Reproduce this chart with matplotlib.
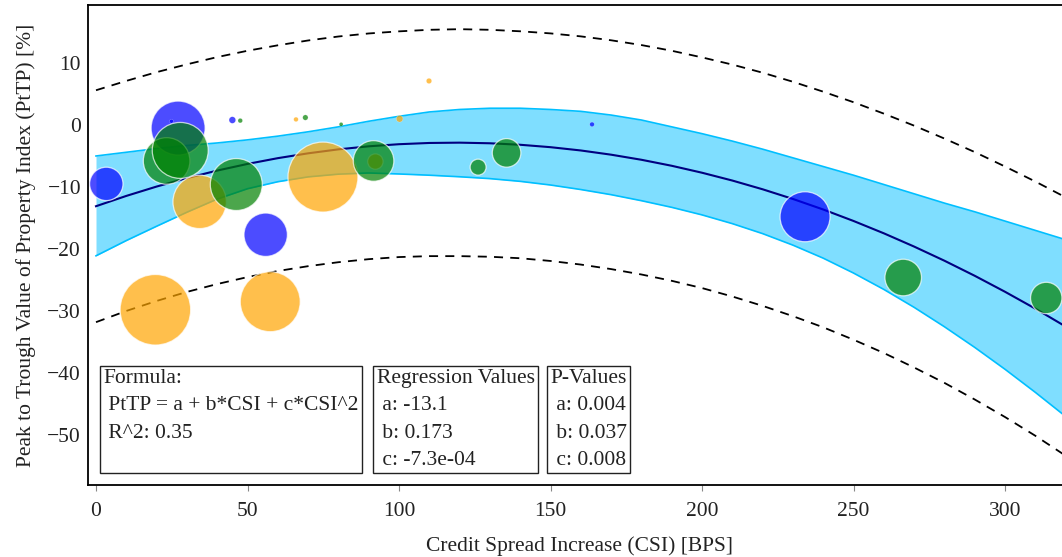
import matplotlib
matplotlib.use("Agg")
import matplotlib.pyplot as plt

plt.rcParams['font.family'] = ['Liberation Serif', 'DejaVu Serif']

# bubbles: CSI [BPS], PtTP [%], bubble area
blue_x = [3.4, 27.1, 24.9, 45.0, 56.0, 163.7, 234.0]
blue_y = [-9.5, -0.5, 0.6, 0.8, -17.7, 0.1, -14.8]
blue_s = [577, 1509, 8, 23, 975, 11, 1294]

orange_x = [19.6, 34.2, 57.5, 74.9, 66.0, 92.2, 100.2, 109.9]
orange_y = [-29.8, -12.4, -28.5, -8.4, 0.9, -5.9, 1.0, 7.1]
orange_s = [2580, 1476, 1863, 2536, 11, 123, 23, 15]

green_x = [23.3, 27.8, 46.3, 47.6, 69.1, 80.9, 91.6, 126.1, 135.5, 266.4, 313.6]
green_y = [-5.8, -4.1, -9.6, 0.7, 1.2, 0.1, -5.8, -6.8, -4.5, -24.6, -27.9]
green_s = [1124, 1623, 1399, 11, 15, 8, 853, 132, 423, 693, 510]

# regression curve, confidence band and prediction interval
band_x = [0, 10, 20, 30, 40, 50, 60, 70, 80, 90, 100, 110, 120, 130, 140, 150, 160,
          170, 180, 190, 200, 210, 220, 230, 240, 250, 260, 270, 280, 290, 300, 310, 322]
fit_y = [-13.10, -11.44, -9.93, -8.57, -7.35, -6.28, -5.35, -4.57, -3.93, -3.44, -3.10,
         -2.90, -2.85, -2.95, -3.19, -3.58, -4.11, -4.79, -5.61, -6.58, -7.70, -8.96,
         -10.37, -11.93, -13.63, -15.48, -17.47, -19.61, -21.89, -24.32, -26.90, -29.62, -33.08]
ci_upper = [-5.0, -4.4, -3.8, -3.3, -2.9, -2.4, -1.8, -1.1, -0.3, 0.6, 1.4, 2.1, 2.5, 2.7,
            2.7, 2.5, 2.2, 1.6, 0.8, -0.3, -1.4, -2.6, -3.9, -5.3, -6.7, -8.1, -9.6, -11.1,
            -12.6, -14.0, -15.5, -17.0, -18.8]
ci_lower = [-21.10, -18.64, -16.33, -14.07, -11.95, -10.28, -9.15, -8.37, -7.93, -7.74,
            -7.90, -8.10, -8.35, -8.65, -9.09, -9.68, -10.41, -11.24, -12.21, -13.28, -14.50,
            -15.91, -17.52, -19.38, -21.48, -23.88, -26.52, -29.41, -32.54, -35.87, -39.40,
            -43.12, -47.78]
pi_upper = [5.60, 7.11, 8.52, 9.78, 10.95, 11.97, 12.85, 13.63, 14.27, 14.76, 15.10, 15.35,
            15.45, 15.35, 15.11, 14.77, 14.29, 13.66, 12.89, 11.97, 10.90, 9.74, 8.43, 6.97,
            5.37, 3.67, 1.83, -0.11, -2.19, -4.37, -6.70, -9.12, -12.18]
pi_lower = [-31.80, -29.99, -28.38, -26.92, -25.65, -24.53, -23.55, -22.77, -22.13, -21.64,
            -21.30, -21.15, -21.15, -21.25, -21.49, -21.93, -22.51, -23.24, -24.11, -25.13,
            -26.30, -27.66, -29.17, -30.83, -32.63, -34.63, -36.77, -39.11, -41.59, -44.27,
            -47.10, -50.12, -53.98]

formula_text = "Formula:\n PtTP = a + b*CSI + c*CSI^2\n R^2: 0.35\n "
coef_text = "Regression Values\n a: -13.1\n b: 0.173\n c: -7.3e-04"
pval_text = "P-Values\n a: 0.004\n b: 0.037\n c: 0.008"

fig = plt.figure(figsize=(10.62, 5.57), dpi=100)
ax = fig.add_axes([88/1062, 72/557, 984/1062, 480/557])

ax.fill_between(band_x, ci_lower, ci_upper, color='deepskyblue', alpha=0.5, lw=0)
ax.plot(band_x, ci_upper, color='deepskyblue', lw=1.2)
ax.plot(band_x, ci_lower, color='deepskyblue', lw=1.2)
ax.plot(band_x, fit_y, color='navy', lw=1.5)
ax.plot(band_x, pi_upper, color='black', lw=1.3, ls=(0, (5, 4)))
ax.plot(band_x, pi_lower, color='black', lw=1.3, ls=(0, (5, 4)))

for xs, ys, ss, col in [(blue_x, blue_y, blue_s, 'blue'),
                        (orange_x, orange_y, orange_s, 'orange'),
                        (green_x, green_y, green_s, 'green')]:
    lws = [0.9 if s > 50 else 0.2 for s in ss]
    ax.scatter(xs, ys, s=ss, color=col, alpha=0.7, edgecolors='white', linewidths=lws, zorder=3)

box = dict(boxstyle='square,pad=0.15', facecolor='white', edgecolor='#222222', lw=1)
kw = dict(fontsize=15.5, va='top', ha='left', bbox=box, color='#222222', linespacing=1.6, zorder=5)
ax.text(2.3, -39.35, formula_text, **kw)
ax.text(92.6, -39.35, coef_text, **kw)
ax.text(150.0, -39.35, pval_text, **kw)

ax.set_xlim(-2.64, 322.1)
ax.set_ylim(-58.06, 19.35)
ax.set_xticks([0, 50, 100, 150, 200, 250, 300])
ax.set_yticks([10, 0, -10, -20, -30, -40, -50])
ax.set_yticklabels(['10', '0', '\u221210', '\u221220', '\u221230', '\u221240', '\u221250'])
ax.tick_params(axis='x', length=4, color='#888888', pad=8, labelsize=15.5, labelcolor='#222222')
ax.tick_params(axis='y', length=0, pad=5, labelsize=15.5, labelcolor='#222222')
for sp in ax.spines.values():
    sp.set_linewidth(1.3)
ax.set_xlabel("Credit Spread Increase (CSI) [BPS]", fontsize=15.5, color='#222222', labelpad=11)
ax.set_ylabel("Peak to Trough Value of Property Index (PtTP) [%]", fontsize=15.5, color='#222222', labelpad=8)

fig.savefig("out.png", dpi=100)
